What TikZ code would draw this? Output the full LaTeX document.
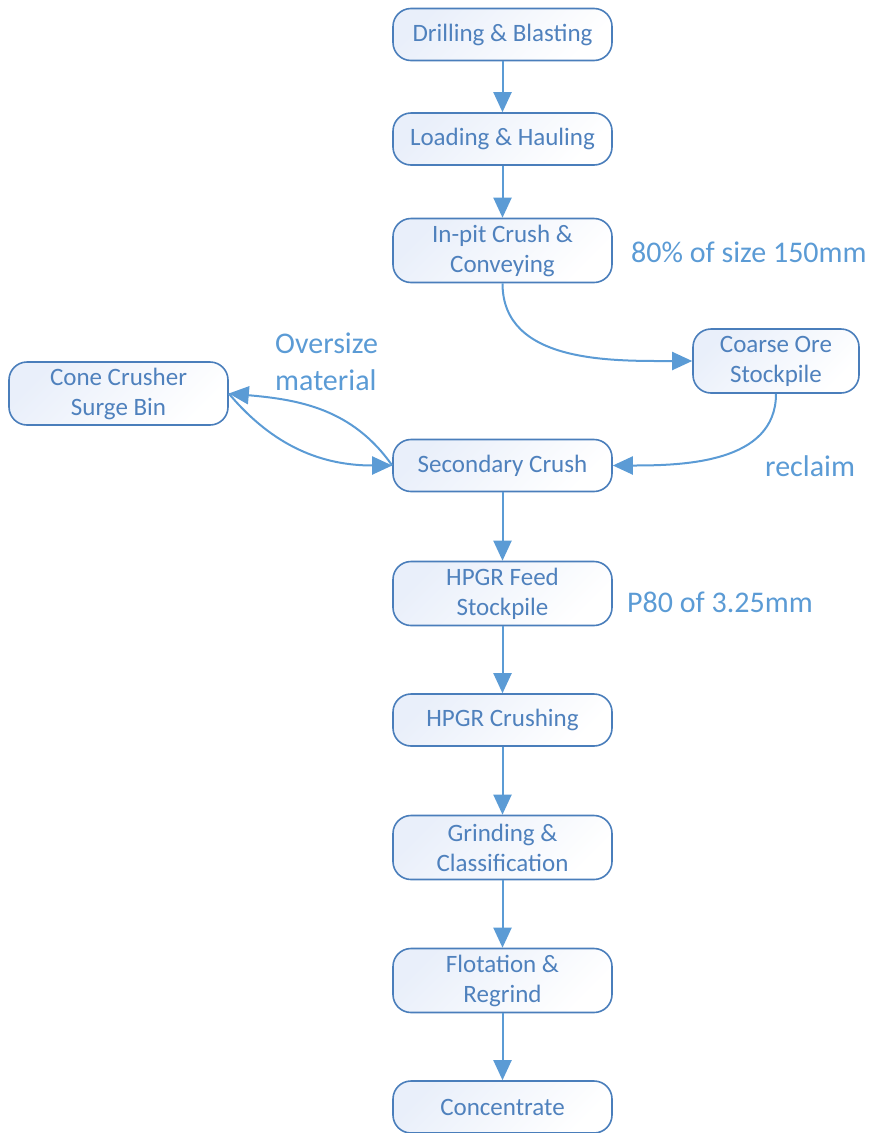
\documentclass[tikz,border=0pt]{standalone}
\usepackage{fontspec}
\setmainfont{Carlito}
\usetikzlibrary{arrows.meta}
\definecolor{boxline}{RGB}{74,126,187}
\definecolor{boxtext}{RGB}{79,129,189}
\definecolor{flow}{RGB}{91,155,213}
\definecolor{boxfill}{RGB}{233,239,250}

\begin{document}
\begin{tikzpicture}[x=1pt,y=-1pt]
\useasboundingbox (0,0) rectangle (875,1133);
\begin{scope}[tall/.style={minimum height=64pt},
              every node/.style={rectangle,draw=boxline,line width=1.6pt,
                top color=boxfill,bottom color=white,shading angle=45,text=boxtext,
                minimum width=219pt,minimum height=52pt,inner sep=2pt,align=center,
                rounded corners=18pt,font=\fontsize{25}{30}\selectfont}]
    \node (S1) at (502.5,34.5) {Drilling \& Blasting};
    \node (S2) at (502.5,139) {Loading \& Hauling};
    \node[tall] (S3) at (502.5,250.5) {In-pit Crush \&\\Conveying};
    \node[tall,minimum width=166pt] (CO) at (776,361) {Coarse Ore\\Stockpile};
    \node[tall,minimum height=63pt] (CC) at (118.5,393.5) {Cone Crusher\\Surge Bin};
    \node (S4) at (502.5,465.5) {Secondary Crush};
    \node[tall] (S5) at (502.5,593.5) {HPGR Feed\\Stockpile};
    \node (S6) at (502.5,720) {HPGR Crushing};
    \node[tall] (S7) at (502.5,847.5) {Grinding \&\\Classification};
    \node[tall] (S8) at (502.5,980.5) {Flotation \&\\Regrind};
    \node (S9) at (502.5,1107) {Concentrate};
\end{scope}
\begin{scope}[every node/.style={text=flow,inner sep=0pt,anchor=west,
                font=\fontsize{30}{37}\selectfont}]
    \node (L1) at (631,252) {80\% of size 150mm};
    \node[align=left] (L2) at (275,362) {Oversize\\material};
    \node (L3) at (765,466) {reclaim};
    \node (L4) at (627,602) {P80 of 3.25mm};
\end{scope}
\begin{scope}[>={Triangle[length=20pt,width=18pt]},
              every edge/.style={draw=flow,line width=2pt}]
    \path [->] (S1) edge (S2);
    \path [->] (S2) edge (S3);
    \path [->] (S3.south) edge[out=-90,in=180] (CO.west);
    \path [->] (CO.south) edge[out=-90,in=0] (S4.east);
    \path [->] (S4.west) edge[out=125,in=-5] (CC.east);
    \path [->] (CC.east) edge[out=-50,in=180] (S4.west);
    \path [->] (S4) edge (S5);
    \path [->] (S5) edge (S6);
    \path [->] (S6) edge (S7);
    \path [->] (S7) edge (S8);
    \path [->] (S8) edge (S9);
\end{scope}
\end{tikzpicture}
\end{document}
